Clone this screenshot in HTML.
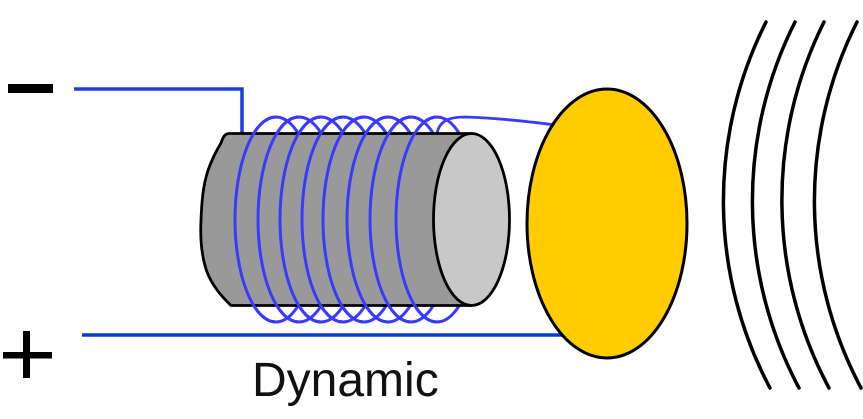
<!DOCTYPE html>
<html><head><meta charset="utf-8"><style>
html,body{margin:0;padding:0;background:#fff;}
svg{display:block;}
</style></head><body>
<svg width="863" height="419" viewBox="0 0 863 419" xmlns="http://www.w3.org/2000/svg">
<!-- minus / plus -->
<rect x="8" y="84" width="45" height="9" fill="#000"/>
<rect x="3" y="352" width="49" height="6.5" fill="#000"/>
<rect x="23" y="331" width="7" height="47" fill="#000"/>
<!-- wires -->
<polyline points="74,89 242,89 242,134" fill="none" stroke="#1c3fdc" stroke-width="3.5"/>
<line x1="82" y1="335" x2="565" y2="335" stroke="#0a3ad0" stroke-width="3.5"/>
<path d="M437 133 C440 120, 450 117, 465 117 C500 118, 530 122, 556 125" fill="none" stroke="#3a3aff" stroke-width="2.8"/>
<!-- coil back (full ellipses) -->
<g fill="none" stroke="#3a3aff" stroke-width="3">
<ellipse cx="276" cy="219.5" rx="41" ry="102.5"/>
<ellipse cx="299" cy="219.5" rx="41" ry="102.5"/>
<ellipse cx="321" cy="219.5" rx="41" ry="102.5"/>
<ellipse cx="343" cy="219.5" rx="41" ry="102.5"/>
<ellipse cx="364" cy="219.5" rx="41" ry="102.5"/>
<ellipse cx="388" cy="219.5" rx="41" ry="102.5"/>
<ellipse cx="411" cy="219.5" rx="41" ry="102.5"/>
<ellipse cx="437" cy="219.5" rx="41" ry="102.5"/>
</g>
<!-- cylinder -->
<path d="M229 133.5 L471.5 133.5 L471.5 305.5 L231 305.5 C222 297, 212 285, 207 272 C202 258, 200 240, 201 220 C202 195, 204 180, 210 165 C214 155, 218 148, 221 143 C223 137, 225 133.5, 229 133.5 Z" fill="#999999" stroke="#000" stroke-width="2.8" stroke-linejoin="round"/>
<ellipse cx="471.5" cy="219.5" rx="38" ry="86" fill="#c8c8c8" stroke="#000" stroke-width="2.8"/>
<!-- coil front halves -->
<g fill="none" stroke="#3a3aff" stroke-width="3">
<path d="M276 117 A41 102.5 0 0 0 276 322"/>
<path d="M299 117 A41 102.5 0 0 0 299 322"/>
<path d="M321 117 A41 102.5 0 0 0 321 322"/>
<path d="M343 117 A41 102.5 0 0 0 343 322"/>
<path d="M364 117 A41 102.5 0 0 0 364 322"/>
<path d="M388 117 A41 102.5 0 0 0 388 322"/>
<path d="M411 117 A41 102.5 0 0 0 411 322"/>
<path d="M437 117 A41 102.5 0 0 0 437 322"/>
</g>
<!-- diaphragm -->
<ellipse cx="607" cy="223.5" rx="80" ry="134.5" fill="#ffcc00" stroke="#000" stroke-width="3"/>
<!-- sound waves -->
<g fill="none" stroke="#000" stroke-width="3.5" stroke-linecap="round">
<path d="M766 22 A398 398 0 0 0 770 388"/>
<path d="M795 22 A398 398 0 0 0 799 388"/>
<path d="M824 22 A398 398 0 0 0 829 388"/>
<path d="M857 22 A398 398 0 0 0 861 388"/>
</g>
<text x="252" y="396" font-family="Liberation Sans, Arial, sans-serif" font-size="48" fill="#111">Dynamic</text>
</svg>
</body></html>
